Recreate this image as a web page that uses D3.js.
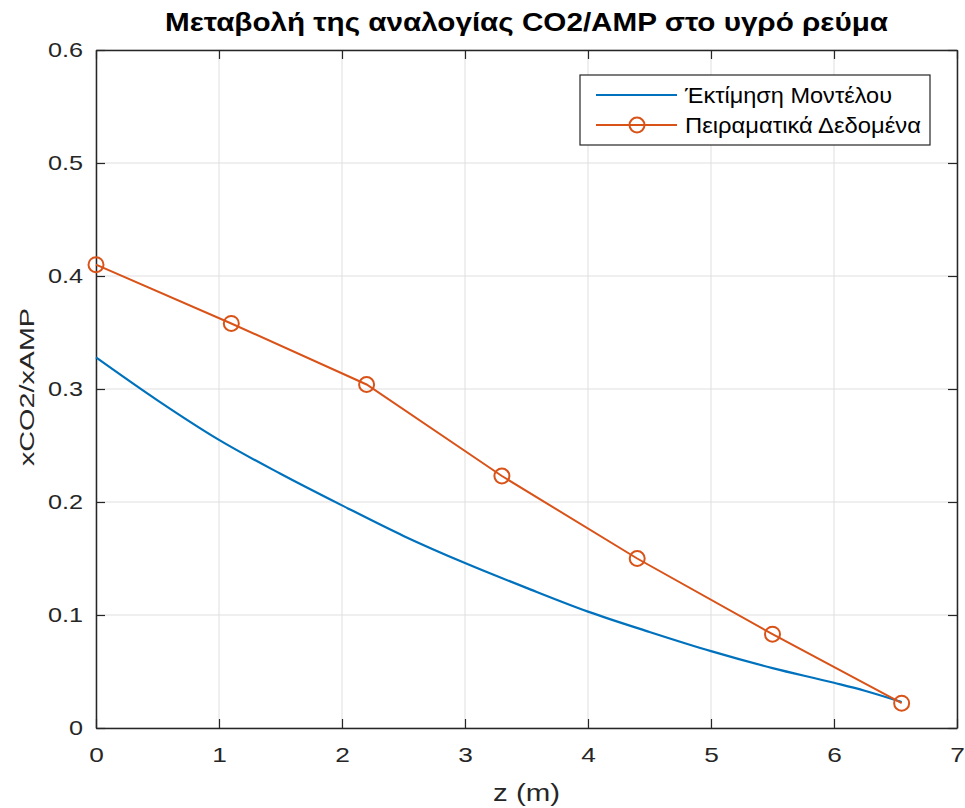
<!DOCTYPE html>
<html>
<head>
<meta charset="utf-8">
<script src="https://cdn.jsdelivr.net/npm/d3@7"></script>
<style>
  html, body { margin: 0; padding: 0; background: #fff; }
  svg { display: block; font-family: "Liberation Sans", Arial, sans-serif; }
</style>
</head>
<body>
<svg id="chart" width="965" height="808"></svg>
<script>
// Model estimate (continuous curve) along column height z
const modelZ = [0, 0.5, 1, 1.5, 2, 2.5, 3, 3.5, 4, 4.5, 5, 5.5, 6, 6.25, 6.55];
const modelY = [0.328, 0.290, 0.255, 0.225, 0.197, 0.170, 0.146, 0.124, 0.103, 0.085, 0.068, 0.053, 0.040, 0.033, 0.023];

// Experimental measurements
const expZ = [0, 1.1, 2.2, 3.3, 4.4, 5.5, 6.55];
const expY = [0.41, 0.358, 0.304, 0.223, 0.150, 0.083, 0.022];

const xTicks = [0, 1, 2, 3, 4, 5, 6, 7];
const yTicks = [0, 0.1, 0.2, 0.3, 0.4, 0.5, 0.6];

const seriesNames = ["Έκτίμηση Μοντέλου", "Πειραματικά Δεδομένα"];
const titleText = "Μεταβολή της αναλογίας CO2/AMP στο υγρό ρεύμα";
const xLabel = "z (m)";
const yLabel = "xCO2/xAMP";

const colBlue = "#0072BD", colOrange = "#D95319", axisCol = "#262626";

const svg = d3.select("#chart");
const plotL = 96, plotR = 957, plotT = 50, plotB = 728;

const x = d3.scaleLinear().domain([0, 7]).range([plotL, plotR]);
const y = d3.scaleLinear().domain([0, 0.6]).range([plotB, plotT]);

// stretch text horizontally (wide figure font)
function widen(sel, factor) {
  sel.each(function () {
    const n = this.getComputedTextLength();
    d3.select(this).attr("textLength", n * factor).attr("lengthAdjust", "spacingAndGlyphs");
  });
}

// grid
const grid = svg.append("g");
grid.selectAll(".gx").data(xTicks).join("line")
  .attr("x1", d => x(d)).attr("x2", d => x(d)).attr("y1", plotT).attr("y2", plotB)
  .attr("stroke", "#dfdfdf").attr("stroke-width", 1);
grid.selectAll(".gy").data(yTicks).join("line")
  .attr("x1", plotL).attr("x2", plotR).attr("y1", d => y(d)).attr("y2", d => y(d))
  .attr("stroke", "#dfdfdf").attr("stroke-width", 1);

// axes (ticks pointing inward, on all four sides)
const tickLen = 9;
const axB = svg.append("g").attr("transform", `translate(0,${plotB})`)
  .call(d3.axisBottom(x).tickValues(xTicks).tickSizeInner(-tickLen).tickSizeOuter(0).tickPadding(19).tickFormat(d3.format("d")));
const axT = svg.append("g").attr("transform", `translate(0,${plotT})`)
  .call(d3.axisTop(x).tickValues(xTicks).tickSizeInner(-tickLen).tickSizeOuter(0).tickFormat(""));
const axL = svg.append("g").attr("transform", `translate(${plotL},0)`)
  .call(d3.axisLeft(y).tickValues(yTicks).tickSizeInner(-tickLen).tickSizeOuter(0).tickPadding(13)
    .tickFormat(d => d === 0 ? "0" : d3.format(".1f")(d)));
const axR = svg.append("g").attr("transform", `translate(${plotR},0)`)
  .call(d3.axisRight(y).tickValues(yTicks).tickSizeInner(-tickLen).tickSizeOuter(0).tickFormat(""));
[axB, axT, axL, axR].forEach(a => {
  a.select(".domain").attr("stroke", axisCol).attr("stroke-width", 1.5);
  a.selectAll(".tick line").attr("stroke", axisCol).attr("stroke-width", 1.2);
  a.selectAll(".tick text").attr("fill", axisCol).attr("font-size", 21)
    .attr("font-family", "'Liberation Sans', Arial, sans-serif");
});
widen(axB.selectAll(".tick text"), 1.25);
widen(axL.selectAll(".tick text"), 1.2);

// model curve
const model = modelZ.map((z, i) => [z, modelY[i]]);
svg.append("path").datum(model)
  .attr("d", d3.line().x(d => x(d[0])).y(d => y(d[1])).curve(d3.curveMonotoneX))
  .attr("fill", "none").attr("stroke", colBlue).attr("stroke-width", 2.2);

// experimental data
const exp = expZ.map((z, i) => [z, expY[i]]);
svg.append("path").datum(exp)
  .attr("d", d3.line().x(d => x(d[0])).y(d => y(d[1])))
  .attr("fill", "none").attr("stroke", colOrange).attr("stroke-width", 2);
svg.selectAll(".pt").data(exp).join("circle")
  .attr("cx", d => x(d[0])).attr("cy", d => y(d[1])).attr("r", 7.5)
  .attr("fill", "none").attr("stroke", colOrange).attr("stroke-width", 2);

// title and axis labels
svg.append("text").attr("x", (plotL + plotR) / 2).attr("y", 31)
  .attr("text-anchor", "middle").attr("font-size", 25).attr("font-weight", "bold")
  .attr("fill", "#000").attr("textLength", 723).attr("lengthAdjust", "spacingAndGlyphs")
  .text(titleText);
svg.append("text").attr("x", (plotL + plotR) / 2).attr("y", 801)
  .attr("text-anchor", "middle").attr("font-size", 23).attr("fill", axisCol)
  .attr("textLength", 67).attr("lengthAdjust", "spacingAndGlyphs").text(xLabel);
svg.append("text").attr("transform", `translate(34,387) rotate(-90)`)
  .attr("text-anchor", "middle").attr("font-size", 21).attr("fill", axisCol)
  .attr("textLength", 158).attr("lengthAdjust", "spacingAndGlyphs").text(yLabel);

// legend
const lg = svg.append("g");
lg.append("rect").attr("x", 580).attr("y", 75).attr("width", 350).attr("height", 70)
  .attr("fill", "#fff").attr("stroke", axisCol).attr("stroke-width", 1.2);
const rows = [95, 125];
const legendLen = [207, 236];
lg.append("line").attr("x1", 596).attr("x2", 677).attr("y1", rows[0]).attr("y2", rows[0])
  .attr("stroke", colBlue).attr("stroke-width", 2.2);
lg.append("line").attr("x1", 596).attr("x2", 677).attr("y1", rows[1]).attr("y2", rows[1])
  .attr("stroke", colOrange).attr("stroke-width", 2);
lg.append("circle").attr("cx", 637).attr("cy", rows[1]).attr("r", 7.5)
  .attr("fill", "none").attr("stroke", colOrange).attr("stroke-width", 2);
lg.selectAll(".lt").data(seriesNames).join("text")
  .attr("x", 685).attr("y", (d, i) => rows[i] + 8)
  .attr("font-size", 22).attr("fill", "#000")
  .attr("textLength", (d, i) => legendLen[i]).attr("lengthAdjust", "spacingAndGlyphs")
  .text(d => d);
</script>
</body>
</html>
